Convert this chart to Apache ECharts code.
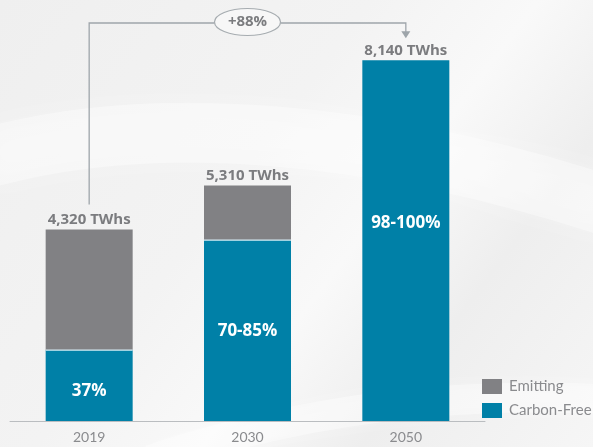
<!DOCTYPE html>
<html><head><meta charset="utf-8">
<script src="https://cdn.jsdelivr.net/npm/echarts@6/dist/echarts.min.js"></script>
<style>html,body{margin:0;padding:0;}#c{width:593px;height:447px;}</style>
</head><body><div id="c"></div>
<script>
var years = ['2019', '2030', '2050'];
var carbonFree = [1600, 4080, 8140];
var emitting = [2720, 1230, 0];
var totalLabels = ['4,320 TWhs', '5,310 TWhs', '8,140 TWhs'];
var shareLabels = ['37%', '70-85%', '98-100%'];
var growthLabel = '+88%';

var BLUE = '#0080a7', GRAY = '#818184', TXT = '#7b7c7f';
var BOLD = '"Open Sans", Lato, sans-serif';
var shareOffsets = [[0, 6], [0, 1], [0, -17]];

var chart = echarts.init(document.getElementById('c'));
var option = {
  animation: false,
  backgroundColor: {
    type: 'linear', x: 0, y: 0, x2: 1, y2: 1,
    colorStops: [
      {offset: 0, color: '#efefef'},
      {offset: 0.4, color: '#f3f3f3'},
      {offset: 0.58, color: '#f9f9f9'},
      {offset: 0.75, color: '#eeeeee'},
      {offset: 1, color: '#f6f6f6'}
    ]
  },
  textStyle: {fontFamily: 'Lato, "Open Sans", sans-serif'},
  grid: {left: 10, right: 108, top: 22, bottom: 26},
  legend: {
    orient: 'vertical', left: 477, top: 374, itemWidth: 20, itemHeight: 15, itemGap: 9,
    data: ['Emitting', 'Carbon-Free'],
    textStyle: {color: '#8a8b8e', fontSize: 15, fontFamily: 'Lato, sans-serif', padding: [0, 0, 0, 2]},
    icon: 'rect'
  },
  xAxis: {
    type: 'category', data: years,
    axisLine: {show: true, lineStyle: {color: '#babdc0', width: 1}}, axisTick: {show: false},
    axisLabel: {color: '#8a8b8e', fontSize: 14, margin: 9}
  },
  yAxis: {type: 'value', min: 0, max: 9000, show: false, splitLine: {show: false}},
  series: [
    {
      name: 'Carbon-Free', type: 'bar', stack: 't', barWidth: 87,
      itemStyle: {color: BLUE},
      data: carbonFree.map(function (v, i) {
        return {value: v, label: {offset: shareOffsets[i]}};
      }),
      label: {
        show: true, position: 'inside', color: '#fff', fontSize: 17, fontWeight: 'bold', fontFamily: BOLD,
        formatter: function (p) { return shareLabels[p.dataIndex]; }
      }
    },
    {
      name: 'Emitting', type: 'bar', stack: 't', barWidth: 87,
      itemStyle: {color: GRAY, borderWidth: 0},
      data: emitting,
      label: {
        show: true, position: 'top', distance: 2, color: TXT, fontSize: 15, fontWeight: 'bold', fontFamily: BOLD,
        formatter: function (p) { return totalLabels[p.dataIndex]; }
      }
    }
  ]
};
chart.setOption(option);

function overlay() {
  var p0 = chart.convertToPixel({seriesIndex: 0}, [0, 0]);
  var pEnd = chart.convertToPixel({seriesIndex: 0}, [years.length - 1, 0]);
  var top0 = chart.convertToPixel({seriesIndex: 0}, [0, carbonFree[0] + emitting[0]]);
  var topN = chart.convertToPixel({seriesIndex: 0}, [years.length - 1, carbonFree[2] + emitting[2]]);
  var yLine = 23;
  var x0 = p0[0], xN = pEnd[0], xm = (x0 + xN) / 2;
  var lc = '#9ea5aa';
  var half = 43.5;
  var seps = [];
  for (var i = 0; i < years.length; i++) {
    if (emitting[i] > 0) {
      var py = chart.convertToPixel({seriesIndex: 0}, [i, carbonFree[i]]);
      seps.push({type: 'line', shape: {x1: py[0] - half, y1: py[1], x2: py[0] + half, y2: py[1]},
        style: {stroke: '#d8ecf3', lineWidth: 1.2}, z: 10});
    }
  }
  chart.setOption({
    graphic: [
      {type: 'bezierCurve', z: -10, shape: {x1: -20, y1: 160, cpx1: 150, cpy1: 110, cpx2: 380, cpy2: 130, x2: 620, y2: 210},
        style: {stroke: 'rgba(255,255,255,0.35)', lineWidth: 60, fill: null, shadowBlur: 30, shadowColor: 'rgba(255,255,255,0.8)'}},
      {type: 'bezierCurve', z: -10, shape: {x1: 150, y1: 460, cpx1: 300, cpy1: 410, cpx2: 450, cpy2: 390, x2: 620, y2: 400},
        style: {stroke: 'rgba(255,255,255,0.35)', lineWidth: 30, fill: null, shadowBlur: 20, shadowColor: 'rgba(255,255,255,0.8)'}}
    ].concat(seps).concat([
      {type: 'polyline', shape: {points: [[x0, top0[1] - 25], [x0, yLine], [xN, yLine], [xN, topN[1] - 28]]},
        style: {stroke: lc, lineWidth: 1.3, fill: null}},
      {type: 'polygon', shape: {points: [[xN - 4.5, topN[1] - 29], [xN + 4.5, topN[1] - 29], [xN, topN[1] - 22]]},
        style: {fill: lc}},
      {type: 'ellipse', shape: {cx: xm, cy: yLine - 1, rx: 33, ry: 13.5},
        style: {fill: '#f7f7f7', stroke: '#a6acb0', lineWidth: 1.2}, z: 5},
      {type: 'text', x: xm, y: yLine - 1, z: 6,
        style: {text: growthLabel, fill: TXT, font: 'bold 15px "Open Sans", sans-serif', textAlign: 'center', textVerticalAlign: 'middle'}}
    ])
  });
}
overlay();
</script></body></html>
